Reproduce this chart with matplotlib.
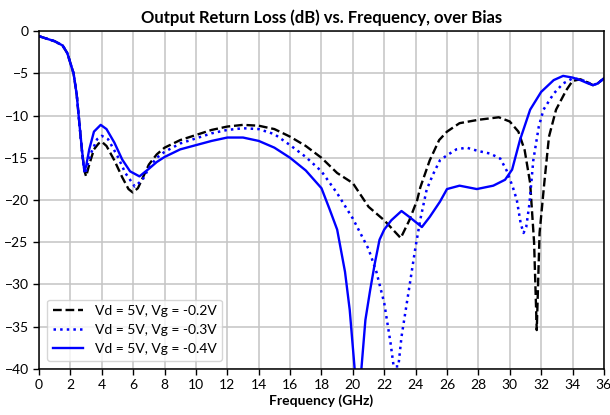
import matplotlib
matplotlib.use('Agg')
import matplotlib.pyplot as plt

plt.rcParams['font.family'] = ['Lato', 'DejaVu Sans']

# Vd = 5V, Vg = -0.2V
freq_a = [0, 0.5, 1.0, 1.5, 1.8, 2.0, 2.2, 2.4, 2.6, 2.75, 2.9, 3.0, 3.2, 3.5, 3.8, 4.0, 4.3,
          4.8, 5.3, 5.7, 5.97, 6.3, 6.6, 7.0, 7.5, 8, 9, 10, 11, 12, 13, 14, 15, 16, 17, 18,
          19, 20, 21, 22, 22.6, 23.05, 23.6, 24.1, 24.3, 24.9, 25.5, 26, 26.8, 28, 29.3,
          30, 30.55, 30.95, 31.3, 31.55, 31.72, 31.9, 32.2, 32.5, 32.95, 33.6, 34, 34.5,
          35, 35.3, 35.6, 36]
rl_a = [-0.6, -0.9, -1.2, -1.7, -2.6, -3.8, -5.0, -7.5, -11.5, -14.5, -16.6, -17.2, -15.8,
        -14.0, -13.3, -13.1, -13.6, -15.3, -17.3, -18.7, -19.1, -18.6, -17.4, -15.8, -14.6,
        -13.8, -12.9, -12.3, -11.7, -11.3, -11.1, -11.2, -11.6, -12.5, -13.6, -15.0, -16.8,
        -18.0, -20.8, -22.4, -23.6, -24.5, -22.4, -20.0, -18.5, -15.3, -12.9, -11.9, -10.9,
        -10.5, -10.2, -10.7, -11.9, -14.1, -18.0, -25.0, -35.4, -23.9, -18.0, -12.5, -9.3,
        -7.0, -5.9, -5.7, -6.1, -6.4, -6.2, -5.6]

# Vd = 5V, Vg = -0.3V
freq_b = [0, 0.5, 1.0, 1.5, 1.8, 2.0, 2.2, 2.4, 2.6, 2.75, 2.85, 2.95, 3.1, 3.3, 3.7, 4.0,
          4.4, 5.0, 5.5, 6.1, 6.6, 7.0, 7.5, 8, 9, 10, 11, 12, 13, 14, 15, 16, 17, 18, 19,
          20, 21, 21.5, 22, 22.4, 22.6, 22.9, 23.1, 23.6, 24, 24.3, 24.7, 25.1, 25.55, 26,
          26.6, 27.25, 28, 28.75, 29.4, 29.8, 30.2, 30.45, 30.7, 30.88, 31.05, 31.25, 31.5,
          31.85, 32.15, 32.8, 33.4, 34, 34.5, 35, 35.3, 35.6, 36]
rl_b = [-0.6, -0.9, -1.2, -1.7, -2.6, -3.8, -5.0, -7.5, -11.5, -14.5, -16.2, -16.9, -15.8,
        -14.5, -12.8, -12.4, -12.8, -14.8, -16.8, -18.4, -17.6, -16.2, -15.0, -14.3, -13.3,
        -12.7, -12.1, -11.7, -11.5, -11.6, -12.2, -13.5, -14.9, -16.6, -19.2, -22.2, -25.8,
        -28.5, -32.2, -36.9, -39.7, -39.7, -36.2, -30.3, -25.5, -22.3, -18.8, -17.0, -15.3,
        -14.7, -14.0, -13.8, -14.2, -14.5, -15.1, -16.5, -18.5, -20.0, -22.8, -23.9, -23.2,
        -20.5, -15.3, -11.3, -9.3, -7.4, -6.2, -5.6, -5.7, -6.1, -6.4, -6.2, -5.6]

# Vd = 5V, Vg = -0.4V
freq_c = [0, 0.5, 1.0, 1.5, 1.8, 2.0, 2.2, 2.4, 2.6, 2.75, 2.89, 3.0, 3.2, 3.5, 3.93, 4.3,
          4.8, 5.3, 5.8, 6.4, 7.0, 7.5, 8, 9, 10, 11, 12, 13, 14, 15, 16, 17, 18, 18.5, 19,
          19.5, 19.8, 20.25, 20.5, 20.8, 21.1, 21.4, 21.7, 22, 22.45, 23.1, 23.6, 24.4,
          24.9, 25.55, 26, 26.8, 27.9, 28.95, 29.7, 30.15, 30.65, 31.3, 32, 32.8, 33.4, 34,
          34.5, 35, 35.3, 35.6, 36]
rl_c = [-0.6, -0.9, -1.2, -1.7, -2.6, -3.8, -5.0, -7.5, -11.5, -14.3, -16.6, -16.0, -14.0,
        -11.9, -11.1, -11.6, -13.2, -15.2, -16.6, -17.2, -16.3, -15.5, -14.9, -14.0, -13.5,
        -13.0, -12.6, -12.6, -13.0, -13.8, -15.0, -16.5, -18.6, -21.0, -23.5, -28.5, -33.0,
        -43.0, -41.0, -34.2, -30.7, -27.5, -24.7, -23.5, -22.4, -21.3, -22.0, -23.2, -22.0,
        -20.2, -18.7, -18.3, -18.7, -18.3, -17.6, -16.4, -12.9, -9.3, -7.2, -5.8, -5.3,
        -5.5, -5.8, -6.2, -6.4, -6.2, -5.6]

labels = ['Vd = 5V, Vg = -0.2V', 'Vd = 5V, Vg = -0.3V', 'Vd = 5V, Vg = -0.4V']

fig = plt.figure(figsize=(6.1, 4.15), dpi=100)
ax = fig.add_axes([0.064, 0.111, 0.926, 0.814])

ax.plot(freq_a, rl_a, color='black', linestyle='--', linewidth=1.7, label=labels[0])
ax.plot(freq_b, rl_b, color='blue', linestyle=':', linewidth=1.8, label=labels[1])
ax.plot(freq_c, rl_c, color='blue', linestyle='-', linewidth=1.7, label=labels[2])

ax.set_xlim(0, 36)
ax.set_ylim(-40, 0)
ax.set_xticks(range(0, 37, 2))
ax.set_yticks(range(-40, 1, 5))
ax.grid(True, color='#c4c4c4', linewidth=1.1)
ax.set_axisbelow(True)
ax.tick_params(labelsize=10, length=4, width=1, direction='out')
for s in ax.spines.values():
    s.set_linewidth(1.1)

ax.set_title('Output Return Loss (dB) vs. Frequency, over Bias', fontsize=12, fontweight='bold', pad=6)
ax.set_xlabel('Frequency (GHz)', fontsize=10, fontweight='bold', labelpad=2)

ax.legend(loc='lower left', fontsize=10, frameon=True, fancybox=True, framealpha=0.8,
          borderaxespad=0.6, handlelength=2.2)

fig.savefig('out.png', dpi=100)
